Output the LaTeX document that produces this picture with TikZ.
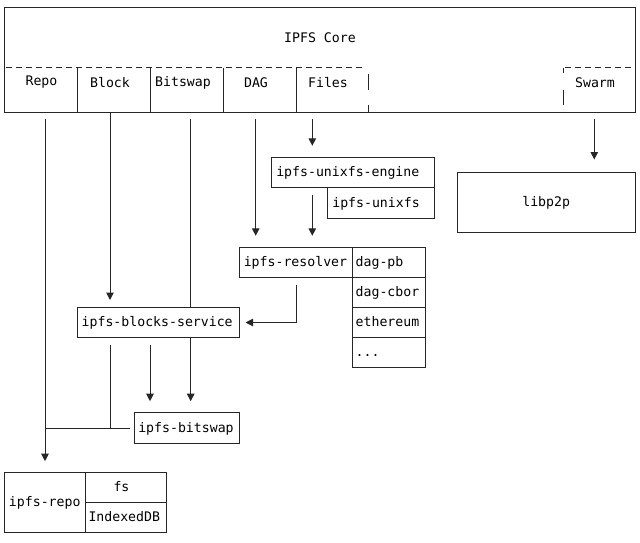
\documentclass[tikz,border=0pt]{standalone}
\usepackage{fontspec}
\newfontfamily\monofnt{DejaVu Sans Mono}
\usetikzlibrary{arrows.meta,calc}
\pgfdeclarelayer{bg}
\pgfsetlayers{bg,main}
\begin{document}
\begin{tikzpicture}[x=1pt,y=-1pt,
  every node/.style={font=\monofnt\fontsize{13.2}{15}\selectfont, text=black},
  box/.style={draw=black!85, line width=1pt, fill=white, inner sep=0pt,
              text height=10.5pt, text depth=2.5pt},
  lbox/.style n args={3}{box, minimum width=#1, minimum height=#2, text width=#3, align=left},
  ln/.style={draw=black!85, line width=1pt},
  arr/.style={ln, -{Triangle[width=7.5pt,length=7.5pt]}},
  dsh/.style={ln, dash pattern=on 5.5pt off 4.5pt, dash phase=8.3pt}]
\useasboundingbox (0,0) rectangle (640,542);

% core
\node[box, minimum width=630.7pt, minimum height=105pt] (core) at (319.65,59.8) {};
\node (coreL) at (320,37.5) {IPFS Core};
\draw[dsh] (4.3,67.7) -- (364,67.7);
\draw[dsh] (563.3,67.7) -- (635,67.7);
\foreach \xx in {77.7,150.3,223.3,296} \draw[ln] (\xx,67.7) -- (\xx,112.3);
\draw[ln] (368.3,74) -- (368.3,89.7);
\draw[ln] (368.3,104.7) -- (368.3,112.3);
\draw[ln] (563.3,67.7) -- (563.3,73);
\draw[ln] (563.3,89.7) -- (563.3,104.7);
\node (repoL)  at (41.5,82.5) {Repo};
\node (blockL) at (110,82.5) {Block};
\node (bitsL)  at (183,82.5) {Bitswap};
\node (dagL)   at (256,82.5) {DAG};
\node (filesL) at (328,82.5) {Files};
\node (swarmL) at (595,83) {Swarm};

% modules
\node[lbox={163.3pt}{30.4pt}{152.7pt}] (engine)   at (352.65,172.5) {ipfs-unixfs-engine};
\node[lbox={106.6pt}{30.6pt}{97.4pt}]  (unixfs)   at (381,203) {ipfs-unixfs};
\node[lbox={113pt}{30pt}{104pt}]       (resolver) at (295.8,262.3) {ipfs-resolver};
\node[lbox={72.7pt}{30pt}{65.9pt}]     (dagpb)    at (388.65,262.3) {dag-pb};
\node[lbox={72.7pt}{30.4pt}{65.9pt}]   (dagcbor)  at (388.65,292.5) {dag-cbor};
\node[lbox={72.7pt}{30pt}{65.9pt}]     (eth)      at (388.65,322.7) {ethereum};
\node[lbox={72.7pt}{30pt}{65.9pt}]     (dots)     at (388.65,352.7) {...};
\node[lbox={161.6pt}{30.4pt}{153.6pt}] (bs)       at (158.5,322.5) {ipfs-blocks-service};
\node[lbox={105.3pt}{30.6pt}{96.7pt}]  (bsw)      at (186.65,428) {ipfs-bitswap};
\node[lbox={81.4pt}{60pt}{72pt}]       (repo)     at (45,502.7) {ipfs-repo};
\node[lbox={81pt}{30pt}{25.4pt}]       (fs)       at (126.2,487.7) {fs};
\node[lbox={81pt}{30pt}{75.4pt}]       (idb)      at (126.2,517.7) {IndexedDB};
\node[box, minimum width=177.7pt, minimum height=60pt] (libp2p) at (546.15,202.7) {libp2p};

% connector start points below the core
\coordinate (repoS)  at (45,119);
\coordinate (blockS) at (110,112.3);
\coordinate (bitsS)  at (190.7,119);
\coordinate (dagS)   at (255.7,119);
\coordinate (filesS) at (312.3,119);
\coordinate (swarmS) at (594.3,119);
\coordinate (bsA) at ($(bs.south)+(-8.5,6.6)$);

\begin{pgfonlayer}{bg}
\draw[arr] (repoS) -- ($(repo.north)+(0,-11)$);
\draw[arr] (blockS) -- ($(blockS |- bs.north)+(0,-6.8)$);
\draw[arr] (bitsS) -- ($(bitsS |- bsw.north)+(0,-11)$);
\draw[arr] (dagS) -- ($(dagS |- resolver.north)+(0,-11)$);
\draw[arr] (filesS) -- ($(filesS |- engine.north)+(0,-11)$);
\draw[arr] ($(filesS |- engine.south)+(0,6.3)$) -- ($(filesS |- resolver.north)+(0,-11)$);
\draw[arr] (swarmS) -- ($(swarmS |- libp2p.north)+(0,-12.7)$);
\draw[arr] ($(resolver.south)+(0.9,6.7)$) |- ($(bs.east)+(5.7,0)$);
\draw[arr] (bsA) -- ($(bsA |- bsw.north)+(0,-11)$);
\draw[ln] ($(bs.south -| blockS)+(0,6.6)$) -- (blockS |- bsw.west);
\draw[ln] ($(bsw.west)+(-4,0)$) -- (repoS |- bsw.west);
\end{pgfonlayer}
\end{tikzpicture}
\end{document}
